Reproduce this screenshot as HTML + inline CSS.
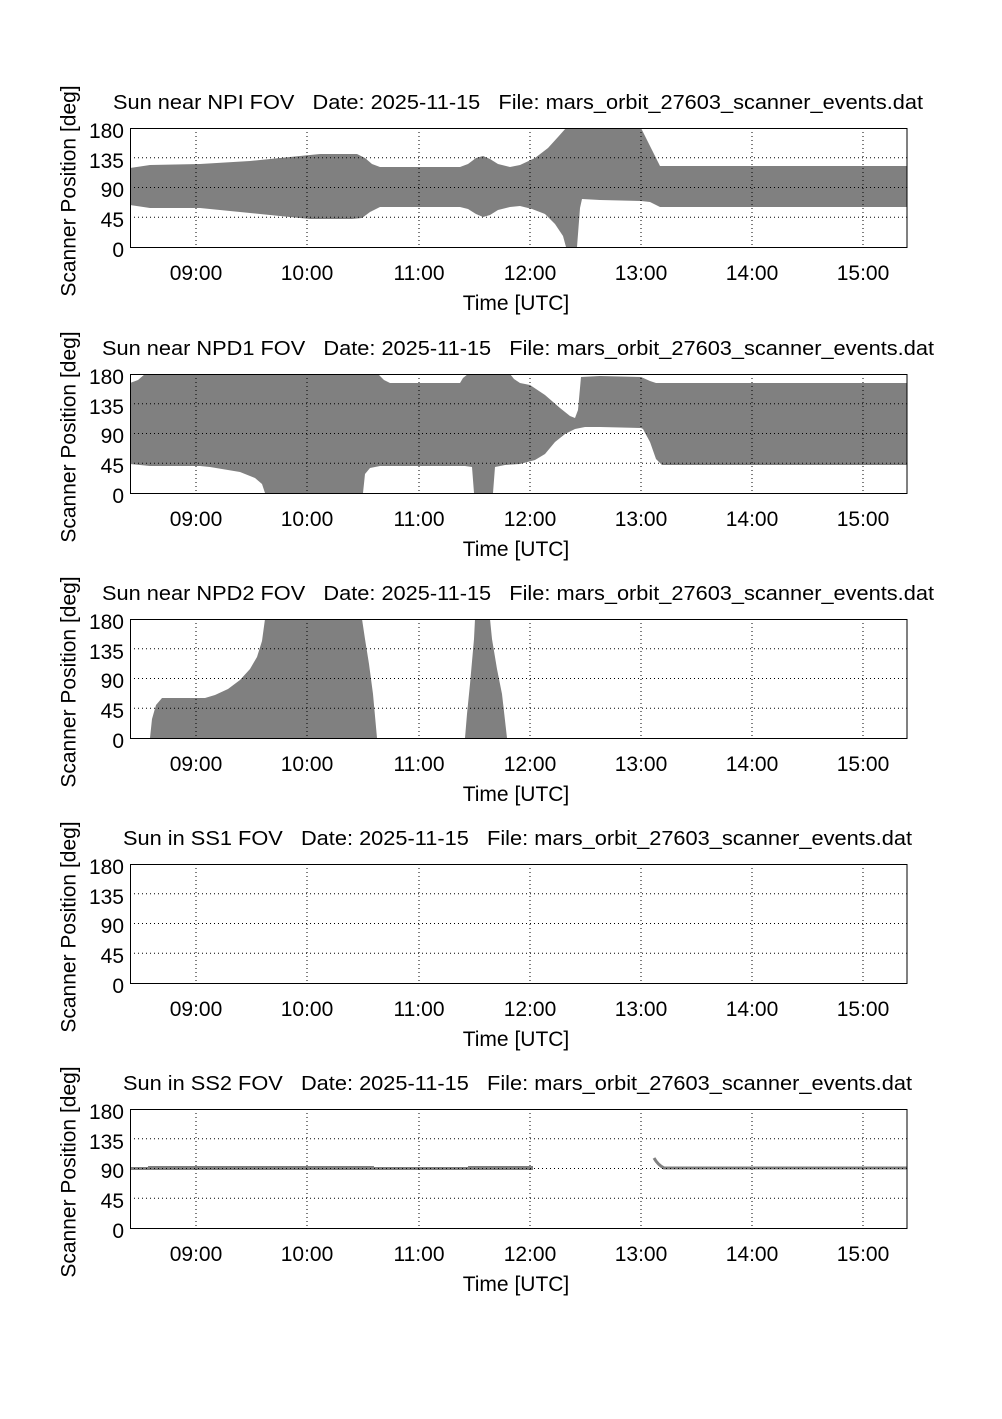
<!DOCTYPE html>
<html><head><meta charset="utf-8"><style>
html,body{margin:0;padding:0;background:#fff;}
svg{display:block;font-family:"Liberation Sans",sans-serif;}
.t{white-space:pre;}
</style></head><body>
<svg width="1002" height="1419" viewBox="0 0 1002 1419" xmlns="http://www.w3.org/2000/svg">
<defs>
<g id="grid">
  <g stroke="#000" stroke-width="1" stroke-dasharray="1,3" fill="none">
    <line x1="196" y1="0" x2="196" y2="119"/><line x1="307" y1="0" x2="307" y2="119"/>
    <line x1="419" y1="0" x2="419" y2="119"/><line x1="530" y1="0" x2="530" y2="119"/>
    <line x1="641" y1="0" x2="641" y2="119"/><line x1="752" y1="0" x2="752" y2="119"/>
    <line x1="863" y1="0" x2="863" y2="119"/>
    <line x1="130" y1="29.75" x2="907" y2="29.75"/><line x1="130" y1="59.5" x2="907" y2="59.5"/>
    <line x1="130" y1="89.25" x2="907" y2="89.25"/>
  </g>
</g>
<g id="axes">
  <rect x="130.5" y="0.5" width="776.5" height="119" fill="none" stroke="#000" stroke-width="1"/>
  <g font-size="21" text-anchor="end">
    <text x="124" y="10">180</text><text x="124" y="40">135</text><text x="124" y="69">90</text>
    <text x="124" y="99">45</text><text x="124" y="129">0</text>
  </g>
  <g font-size="21" text-anchor="middle">
    <text x="196" y="152">09:00</text><text x="307" y="152">10:00</text><text x="419" y="152">11:00</text>
    <text x="530" y="152">12:00</text><text x="641" y="152">13:00</text><text x="752" y="152">14:00</text>
    <text x="863" y="152">15:00</text>
    <text x="516" y="182">Time [UTC]</text>
  </g>
  <text transform="translate(75.5,63) rotate(-90)" font-size="21" text-anchor="middle">Scanner Position [deg]</text>
</g>
</defs>

<g transform="translate(0,128)">
  <text class="t" x="113" y="-19" font-size="20" textLength="810" lengthAdjust="spacingAndGlyphs">Sun near NPI FOV   Date: 2025-11-15   File: mars_orbit_27603_scanner_events.dat</text>
  <path fill="#808080" d="M130,40 L150,37 L200,36 L250,33 L300,28 L320,26 L357,26 L365,30 L372,36 L380,39 L460,39 L468,36 L476,30 L483,28 L490,31 L498,36 L510,39 L520,37 L535,30 L548,20 L558,9 L566,0 L641,0 L647,12 L653,24 L660,38 L907,38 L907,79 L660,79 L650,74 L641,73 L600,72 L582,71 L580,80 L577,119 L566,119 L563,108 L555,96 L545,86 L532,81 L520,78 L510,79 L498,82 L490,87 L483,89 L476,86 L468,81 L460,79 L380,79 L370,84 L362,90 L352,91 L310,91 L260,86 L200,80 L150,80 L130,77 Z"/>
  <use href="#grid"/><use href="#axes"/>
</g>

<g transform="translate(0,374)">
  <text class="t" x="102" y="-19" font-size="20" textLength="832" lengthAdjust="spacingAndGlyphs">Sun near NPD1 FOV   Date: 2025-11-15   File: mars_orbit_27603_scanner_events.dat</text>
  <path fill="#808080" d="M130,9 L138,6 L145,0 L378,0 L384,6 L390,9 L460,9 L463,4 L468,0 L510,0 L514,5 L520,9 L530,11 L545,21 L560,34 L570,42 L575,44 L578,36 L581,3 L600,2 L641,3 L650,7 L656,9 L907,9 L907,91 L662,91 L656,85 L650,68 L643,55 L641,54 L600,53 L585,53 L575,55 L565,60 L555,68 L545,80 L535,86 L520,90 L505,91 L495,93 L493,119 L474,119 L472,93 L465,92 L380,92 L370,94 L365,100 L363,119 L265,119 L262,110 L255,104 L240,98 L210,93 L200,92 L150,92 L130,90 Z"/>
  <use href="#grid"/><use href="#axes"/>
</g>

<g transform="translate(0,619)">
  <text class="t" x="102" y="-19" font-size="20" textLength="832" lengthAdjust="spacingAndGlyphs">Sun near NPD2 FOV   Date: 2025-11-15   File: mars_orbit_27603_scanner_events.dat</text>
  <path fill="#808080" d="M150,119 L152,100 L156,86 L162,79 L205,79 L215,76 L228,70 L240,61 L250,50 L257,38 L262,22 L265,0 L362,0 L365,20 L369,45 L373,75 L377,119 Z"/>
  <path fill="#808080" d="M465,119 L467,95 L470,65 L474,20 L475,0 L490,0 L492,20 L497,50 L502,75 L507,119 Z"/>
  <use href="#grid"/><use href="#axes"/>
</g>

<g transform="translate(0,864)">
  <text class="t" x="123" y="-19" font-size="20" textLength="789" lengthAdjust="spacingAndGlyphs">Sun in SS1 FOV   Date: 2025-11-15   File: mars_orbit_27603_scanner_events.dat</text>
  <use href="#grid"/><use href="#axes"/>
</g>

<g transform="translate(0,1109)">
  <text class="t" x="123" y="-19" font-size="20" textLength="789" lengthAdjust="spacingAndGlyphs">Sun in SS2 FOV   Date: 2025-11-15   File: mars_orbit_27603_scanner_events.dat</text>
  <rect x="130" y="58" width="403" height="3" fill="#808080"/>
  <rect x="148" y="57" width="226" height="2" fill="#808080"/>
  <rect x="468" y="57" width="65" height="2" fill="#808080"/>
  <path d="M654,49 Q658,56 664,59 L907,59" stroke="#808080" stroke-width="3" fill="none"/>
  <use href="#grid"/><use href="#axes"/>
</g>
</svg>
</body></html>
